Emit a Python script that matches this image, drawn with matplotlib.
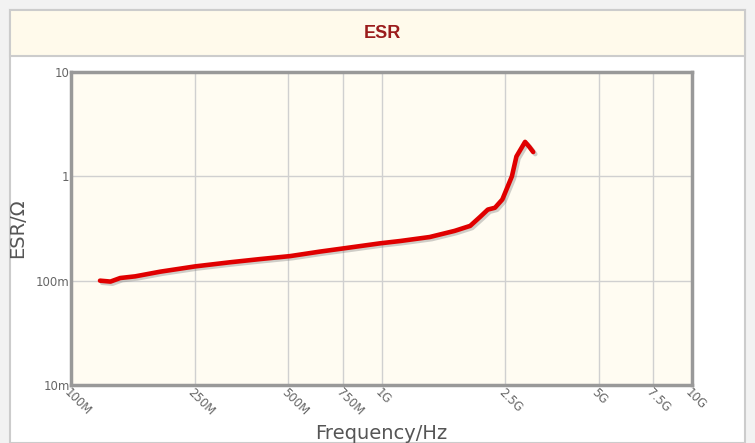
import matplotlib
matplotlib.use('Agg')
import matplotlib.pyplot as plt
import matplotlib.patheffects as pe
from matplotlib.patches import Rectangle
import numpy as np

# frequency (Hz) and ESR (ohm)
freq = [1.24e8, 1.34e8, 1.44e8, 1.61e8, 1.94e8, 2.51e8, 3.25e8, 4.06e8, 5.08e8,
        6.34e8, 7.92e8, 9.9e8, 1.15e9, 1.43e9, 1.72e9, 1.93e9, 2.08e9, 2.2e9,
        2.32e9, 2.45e9, 2.55e9, 2.63e9, 2.72e9, 2.9e9, 3.0e9, 3.08e9]
esr = [0.100, 0.098, 0.106, 0.110, 0.122, 0.137, 0.150, 0.161, 0.172,
       0.190, 0.208, 0.228, 0.240, 0.262, 0.300, 0.335, 0.41, 0.48,
       0.50, 0.60, 0.80, 1.0, 1.55, 2.14, 1.9, 1.71]

xticks = [1e8, 2.5e8, 5e8, 7.5e8, 1e9, 2.5e9, 5e9, 7.5e9, 1e10]
xlabels = ['100M', '250M', '500M', '750M', '1G', '2.5G', '5G', '7.5G', '10G']
yticks = [0.01, 0.1, 1, 10]
ylabels = ['10m', '100m', '1', '10']

W, H = 755, 443
fig = plt.figure(figsize=(W / 100, H / 100), dpi=100)
fig.patch.set_facecolor('#f2f2f2')

# panel and title bar (behind the axes)
fig.add_artist(Rectangle((10 / W, 0), 735 / W, 1 - 10 / H, transform=fig.transFigure,
                         facecolor='white', edgecolor='#cccccc', lw=1.5, zorder=-5))
fig.add_artist(Rectangle((10 / W, 1 - 56 / H), 735 / W, 46 / H, transform=fig.transFigure,
                         facecolor='#fffaeb', edgecolor='#cccccc', lw=1.5, zorder=-4))
fig.text(382 / W, 1 - 33 / H, 'ESR', ha='center', va='center', fontsize=13,
         fontweight='bold', color='#9b1c1c', family='Liberation Sans')

ax = fig.add_axes([71 / W, 1 - 385 / H, 621 / W, 313 / H])
ax.set_facecolor('#fffcf2')
ax.set_xscale('log')
ax.set_yscale('log')
ax.set_xlim(1e8, 1e10)
ax.set_ylim(0.01, 10)

ax.plot(freq, esr, color='#e00000', lw=3.3, solid_capstyle='round',
        path_effects=[pe.SimpleLineShadow(offset=(1.5, -1.5), shadow_color='#888888', alpha=0.4),
                      pe.Normal()])

ax.set_xticks(xticks)
ax.set_xticklabels(xlabels, rotation=-45, ha='left', va='top',
                   rotation_mode='anchor', fontsize=8.5, color='#666666')
ax.set_yticks(yticks)
ax.set_yticklabels(ylabels, fontsize=8.5, color='#666666')
ax.minorticks_off()
ax.tick_params(axis='both', length=0, pad=1)
ax.grid(True, color='#d0d0d0', lw=1)

for s in ax.spines.values():
    s.set_color('#999999')
    s.set_linewidth(2.5)

ax.set_xlabel('Frequency/Hz', fontsize=14, color='#555555', labelpad=4)
ax.set_ylabel('ESR/Ω', fontsize=14, color='#555555', labelpad=6)

fig.savefig('out.png', dpi=100, facecolor=fig.get_facecolor())
